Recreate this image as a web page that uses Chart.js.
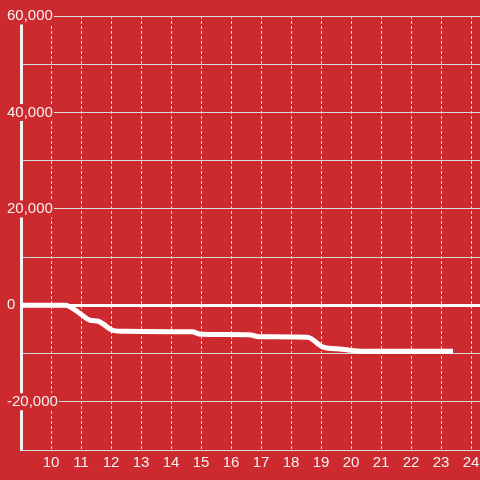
<!DOCTYPE html>
<html>
<head>
<meta charset="utf-8">
<script src="https://cdn.jsdelivr.net/npm/chart.js@4"></script>
<style>
  html, body { margin: 0; padding: 0; background: #cc2a2f; }
  #wrap { width: 480px; height: 480px; }
</style>
</head>
<body>
<div id="wrap"><canvas id="chart"></canvas></div>
<script>
// valores
const xValues = [9, 10.47, 10.97, 11.3, 11.57, 12.07, 12.5, 14.7, 15.0, 16.6, 16.95, 18.55, 19.05, 19.7, 20.3, 23.4];
const yValues = [0, 0, -1700, -3100, -3300, -5200, -5400, -5500, -6000, -6100, -6500, -6600, -8600, -9100, -9500, -9500];
const xTicks = [10, 11, 12, 13, 14, 15, 16, 17, 18, 19, 20, 21, 22, 23, 24];
const yLabelTicks = [60000, 40000, 20000, 0, -20000];

const bg = "#cc2a2f";
const gridColor = "#d9d9d9";
const textColor = "#f2f2f2";

new Chart(document.getElementById("chart"), {
    type: "line",
    data: {
        datasets: [{
            data: xValues.map((x, i) => ({ x: x, y: yValues[i] })),
            borderColor: "#ffffff",
            borderWidth: 5,
            pointRadius: 0,
            fill: false,
            cubicInterpolationMode: "monotone"
        }]
    },
    options: {
        responsive: true,
        maintainAspectRatio: false,
        animation: false,
        layout: { padding: { left: 7, top: 16, right: 0, bottom: 4 } },
        plugins: { legend: { display: false }, tooltip: { enabled: false } },
        scales: {
            x: {
                type: "linear",
                min: 9,
                max: 24.3,
                afterBuildTicks: s => { s.ticks = xTicks.map(v => ({ value: v })); },
                afterFit: s => { s.paddingLeft = 0; s.paddingRight = 0; },
                grid: { color: gridColor, lineWidth: 1, drawTicks: false },
                border: { display: false, dash: [3, 2] },
                ticks: {
                    color: textColor,
                    padding: 4,
                    maxRotation: 0,
                    autoSkip: false,
                    font: { family: "'Liberation Sans', Arial", size: 15 }
                }
            },
            y: {
                min: -30000,
                max: 60000,
                // eixo estreito, rótulos "mirror" por cima da área do gráfico
                afterFit: s => { s.width = 14; s.paddingTop = 0; s.paddingBottom = 0; },
                grid: {
                    drawTicks: false,
                    color: c => c.tick.value === 0 ? "#ffffff" : gridColor,
                    lineWidth: c => c.tick.value === 0 ? 3 : 1
                },
                border: { display: true, color: "#f2f2f2", width: 3 },
                ticks: {
                    stepSize: 10000,
                    mirror: true,
                    padding: -14,
                    crossAlign: "near",
                    color: textColor,
                    font: { family: "'Liberation Sans', Arial", size: 15, lineHeight: 1 },
                    showLabelBackdrop: c => yLabelTicks.includes(c.tick.value),
                    backdropColor: bg,
                    backdropPadding: { left: 1, right: 1, top: 1, bottom: 1 },
                    callback: v => yLabelTicks.includes(v) ? v.toLocaleString("en-US") : ""
                }
            }
        }
    }
});
</script>
</body>
</html>
